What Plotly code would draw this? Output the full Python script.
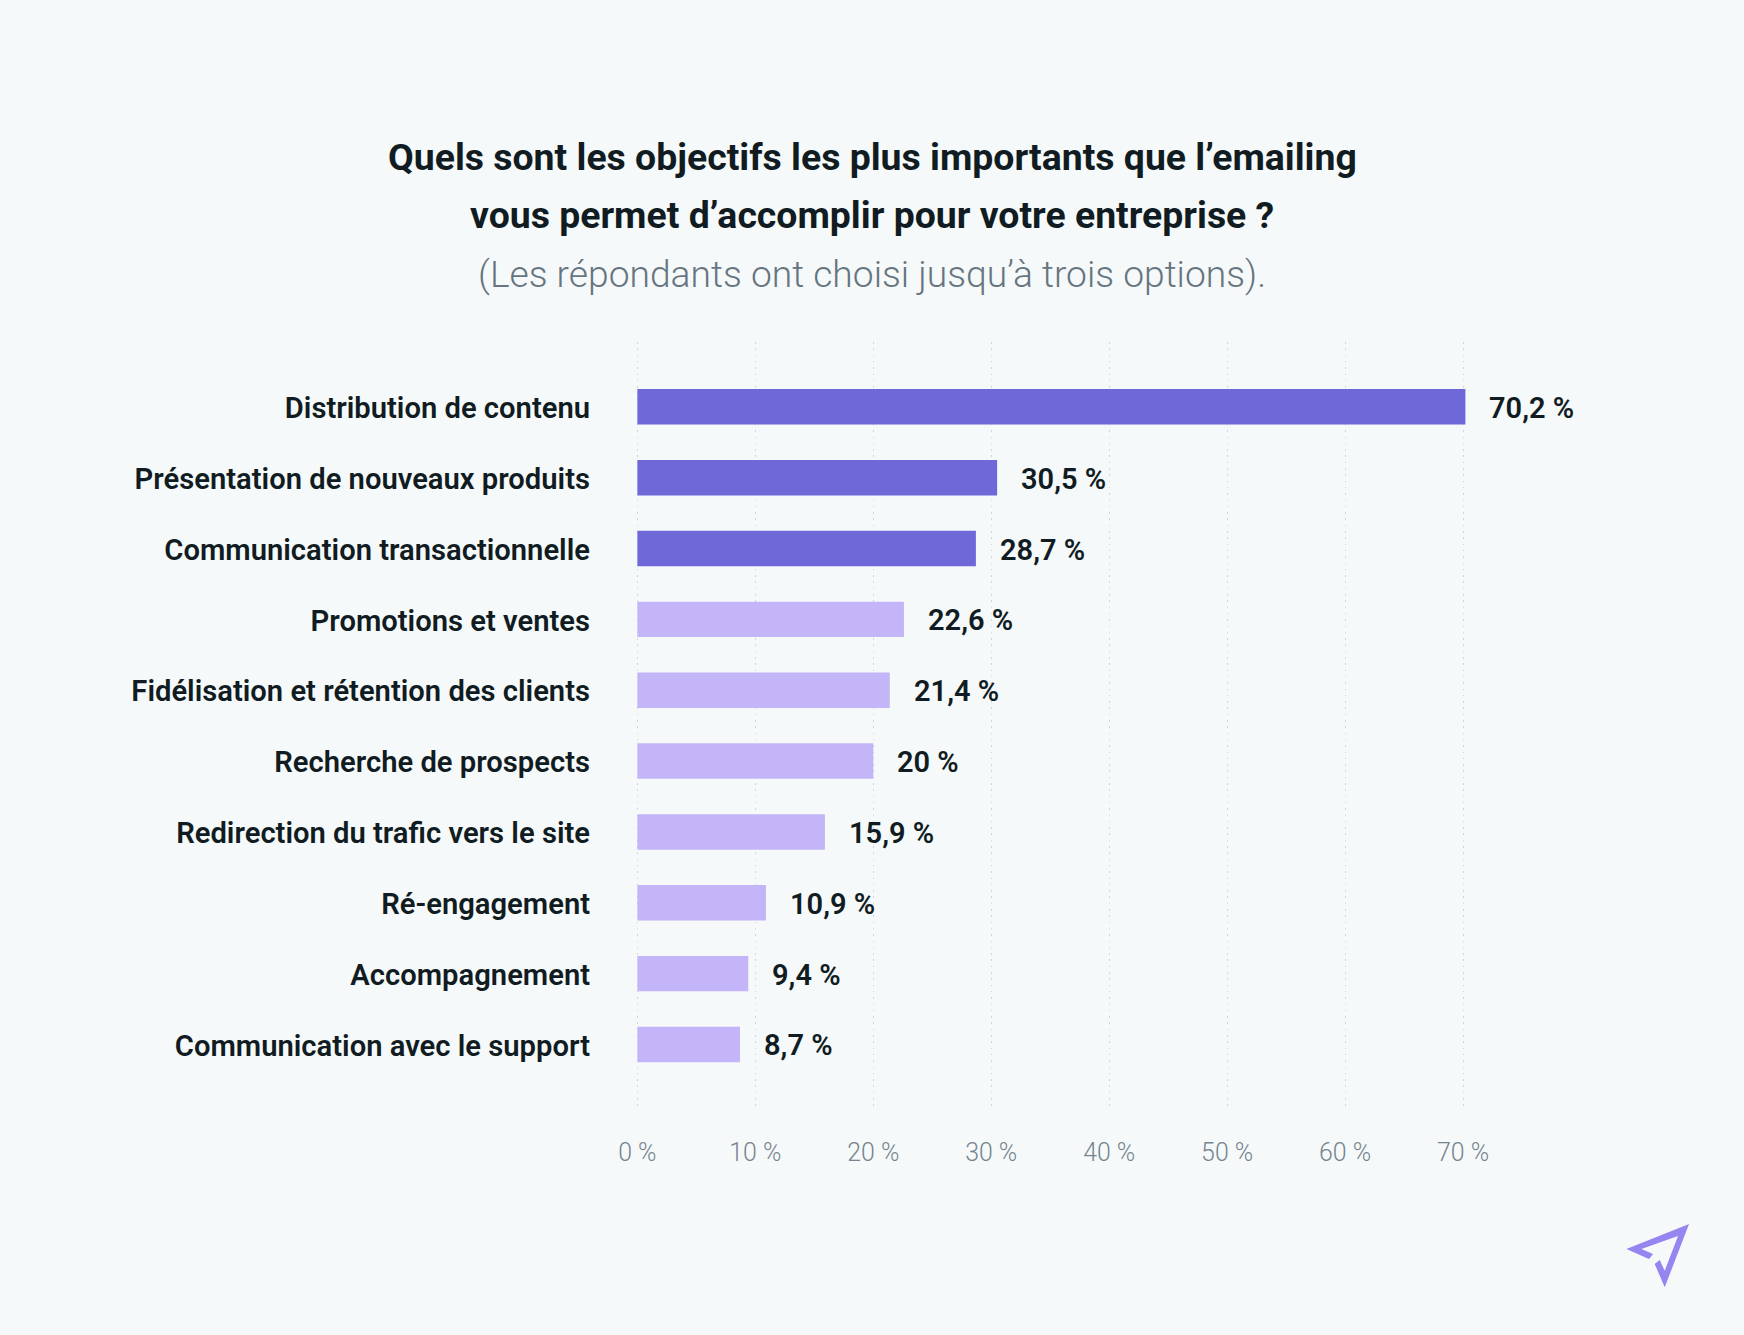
import plotly.graph_objects as go

categories = ["Distribution de contenu", "Présentation de nouveaux produits", "Communication transactionnelle",
              "Promotions et ventes", "Fidélisation et rétention des clients", "Recherche de prospects",
              "Redirection du trafic vers le site", "Ré-engagement", "Accompagnement", "Communication avec le support"]
values = [70.2, 30.5, 28.7, 22.6, 21.4, 20, 15.9, 10.9, 9.4, 8.7]
value_labels = ["70,2 %", "30,5 %", "28,7 %", "22,6 %", "21,4 %", "20 %", "15,9 %", "10,9 %", "9,4 %", "8,7 %"]
bar_colors = ["#6e68d9"] * 3 + ["#c4b5f8"] * 7
tick_values = [0, 10, 20, 30, 40, 50, 60, 70]
tick_labels = ["0 %", "10 %", "20 %", "30 %", "40 %", "50 %", "60 %", "70 %"]
title_lines = ["Quels sont les objectifs les plus importants que l’emailing",
               "vous permet d’accomplir pour votre entreprise ?"]
subtitle = "(Les répondants ont choisi jusqu’à trois options)."

W, H = 1744, 1335
ML, MR, MT, MB = 635.4, 162.7, 342, 225
BG = "#f5f9fa"
INK = "#111c22"
FONT = "Roboto"

def px_x(x):
    return (x - ML) / (W - ML - MR)

def px_y(y):
    return 1 - (y - MT) / (H - MT - MB)

fig = go.Figure(go.Bar(
    x=values, y=list(range(len(categories))), orientation="h",
    marker=dict(color=bar_colors, line=dict(width=0)), hoverinfo="skip",
))

annotations = []
for v, lab, i in zip(values, value_labels, range(len(values))):
    annotations.append(dict(x=v, y=i, xref="x", yref="y", text=lab, showarrow=False, xanchor="left",
                            xshift=22, yshift=-1,
                            font=dict(family=FONT, size=29, color=INK, weight=600)))

def paper_text(txt, ypx, size, color, weight):
    return dict(x=px_x(872.5), y=px_y(ypx), xref="paper", yref="paper", text=txt, showarrow=False,
                xanchor="center", yanchor="middle",
                font=dict(family=FONT, size=size, color=color, weight=weight))

annotations.append(paper_text(title_lines[0], 157, 37.4, INK, 700))
annotations.append(paper_text(title_lines[1], 215, 37.4, INK, 700))
annotations.append(paper_text(subtitle, 273.5, 37.2, "#66757f", 300))

# send-arrow logo, pixel outline converted to paper coordinates
logo_px = [(388, 132), (200, 207), (268, 237), (280, 222), (245, 207), (355, 168),
           (315, 272), (300, 240), (285, 252), (315, 322)]
pts = [(px_x(1560 + x / 3), px_y(1180 + y / 3)) for x, y in logo_px]
logo_path = "M " + " L ".join(f"{x:.5f} {y:.5f}" for x, y in pts) + " Z"

fig.update_layout(
    width=W, height=H, autosize=False,
    paper_bgcolor=BG, plot_bgcolor=BG,
    margin=dict(l=ML, r=MR, t=MT, b=MB, pad=0),
    bargap=0.5, showlegend=False,
    font=dict(family=FONT),
    annotations=annotations,
    shapes=[dict(type="path", path=logo_path, xref="paper", yref="paper",
                 fillcolor="#9485f0", line=dict(width=0))],
    xaxis=dict(range=[-0.2, 80], tickvals=tick_values, ticktext=tick_labels, showgrid=True,
               gridcolor="#cfd7dc", gridwidth=1, griddash="1.5px,4.8px", zeroline=False,
               showline=False, ticks="", ticklabelstandoff=25,
               tickfont=dict(family=FONT, size=24.9, color="#76848d", weight=300)),
    yaxis=dict(range=[9.925, -0.915], tickvals=list(range(len(categories))), ticktext=categories,
               showgrid=False, zeroline=False, showline=False, ticks="", ticklabelstandoff=44,
               ticklabelshift=-1,
               tickfont=dict(family=FONT, size=29.2, color=INK, weight=600)),
)

fig.write_html("out.html", config=dict(displayModeBar=False),
               post_script="document.body.style.margin='0';document.body.style.background='%s';" % BG)
